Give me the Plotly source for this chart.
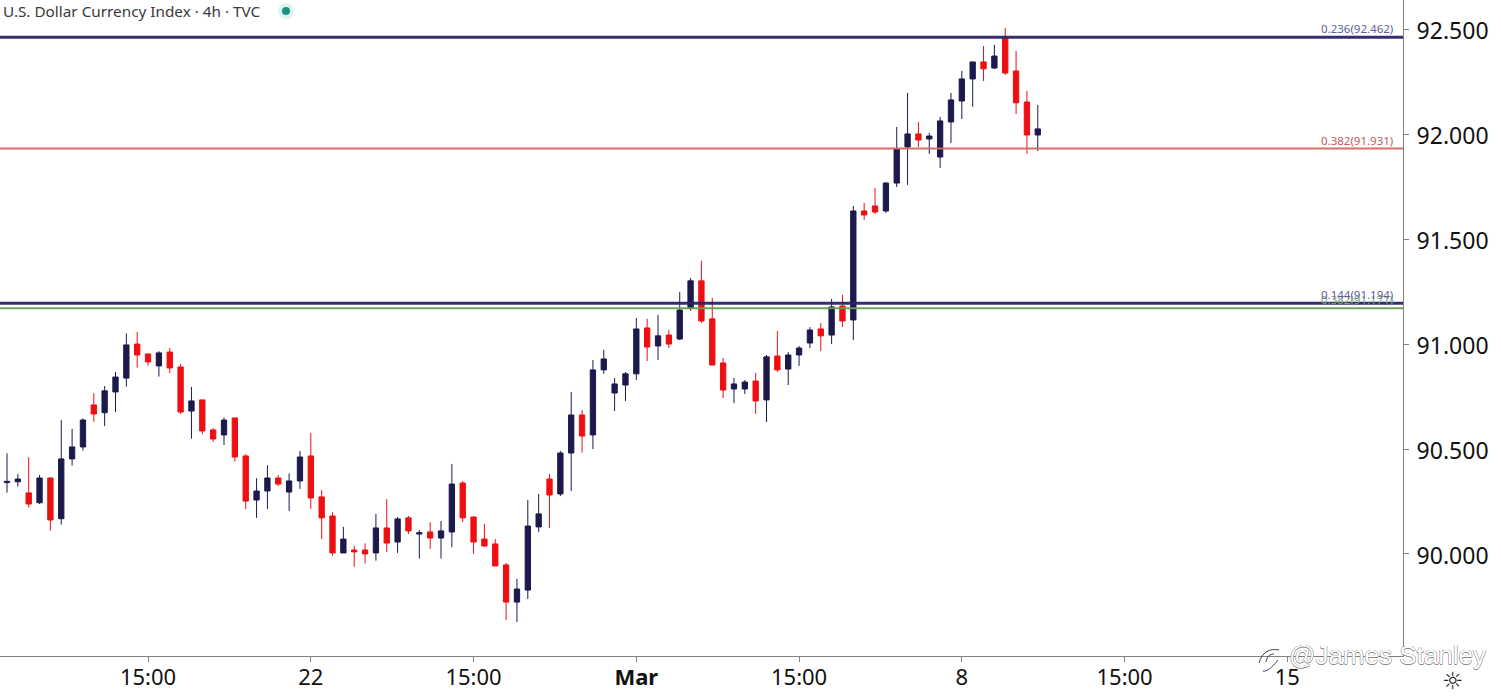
import plotly.graph_objects as go

# bars are spaced evenly on the chart, so use the bar number as x
opens = [
    90.340, 90.344, 90.291, 90.244, 90.362, 90.168, 90.453, 90.510,
    90.710, 90.673, 90.772, 90.838, 91.000, 90.953, 90.896, 90.962,
    90.891, 90.681, 90.734, 90.591, 90.567, 90.648, 90.467, 90.257,
    90.300, 90.362, 90.295, 90.348, 90.467, 90.272, 90.181, 90.005,
    90.019, 90.019, 90.005, 90.124, 90.057, 90.172, 90.095, 90.105,
    90.076, 90.105, 90.338, 90.176, 90.071, 90.048, 89.948, 89.771,
    89.828, 90.129, 90.357, 90.286, 90.481, 90.662, 90.567, 90.877,
    90.767, 90.805, 90.858, 91.077, 90.991, 91.043, 91.024, 91.172,
    91.301, 91.120, 90.910, 90.786, 90.786, 90.824, 90.734, 90.943,
    90.881, 90.948, 91.005, 91.072, 91.043, 91.181, 91.115, 91.634,
    91.658, 91.634, 91.767, 91.939, 92.001, 91.977, 91.891, 92.058,
    92.158, 92.263, 92.344, 92.315, 92.458, 92.301, 92.153, 91.996,
]
highs = [
    90.480, 90.381, 90.461, 90.376, 90.365, 90.638, 90.596, 90.646,
    90.766, 90.800, 90.867, 91.051, 91.058, 90.953, 90.966, 90.981,
    90.905, 90.796, 90.734, 90.599, 90.651, 90.648, 90.475, 90.361,
    90.423, 90.376, 90.384, 90.491, 90.576, 90.305, 90.199, 90.129,
    90.038, 90.051, 90.191, 90.262, 90.176, 90.181, 90.114, 90.152,
    90.157, 90.429, 90.348, 90.178, 90.143, 90.071, 89.957, 89.881,
    90.257, 90.286, 90.381, 90.491, 90.772, 90.686, 90.924, 90.972,
    90.838, 90.867, 91.124, 91.120, 91.139, 91.067, 91.248, 91.315,
    91.396, 91.220, 90.934, 90.838, 90.829, 90.862, 90.948, 91.062,
    90.962, 90.991, 91.081, 91.100, 91.215, 91.234, 91.658, 91.672,
    91.744, 91.772, 92.034, 92.196, 92.058, 92.006, 92.082, 92.196,
    92.301, 92.344, 92.420, 92.425, 92.506, 92.396, 92.206, 92.139,
]
lows = [
    90.292, 90.321, 90.221, 90.238, 90.111, 90.140, 90.421, 90.492,
    90.630, 90.610, 90.676, 90.797, 90.888, 90.897, 90.845, 90.861,
    90.667, 90.549, 90.570, 90.534, 90.519, 90.440, 90.214, 90.172,
    90.214, 90.324, 90.205, 90.310, 90.214, 90.071, 89.992, 90.005,
    89.939, 89.954, 89.968, 90.010, 90.005, 90.095, 89.978, 90.024,
    89.978, 90.033, 90.152, 90.000, 90.033, 89.943, 89.686, 89.676,
    89.786, 90.105, 90.124, 90.276, 90.300, 90.483, 90.500, 90.858,
    90.681, 90.729, 90.829, 90.919, 90.924, 90.981, 91.019, 91.158,
    91.100, 90.900, 90.743, 90.719, 90.762, 90.667, 90.629, 90.867,
    90.805, 90.896, 90.981, 90.967, 91.000, 91.081, 91.019, 91.591,
    91.620, 91.625, 91.748, 91.758, 91.939, 91.906, 91.839, 91.958,
    92.072, 92.130, 92.253, 92.311, 92.282, 92.096, 91.906, 91.920,
]
closes = [
    90.346, 90.357, 90.238, 90.362, 90.162, 90.453, 90.510, 90.638,
    90.667, 90.777, 90.843, 90.996, 90.948, 90.915, 90.958, 90.886,
    90.676, 90.729, 90.586, 90.548, 90.638, 90.462, 90.252, 90.300,
    90.362, 90.333, 90.348, 90.462, 90.267, 90.172, 90.005, 90.071,
    90.010, 90.000, 90.124, 90.052, 90.167, 90.110, 90.101, 90.076,
    90.110, 90.333, 90.172, 90.057, 90.038, 89.943, 89.771, 89.833,
    90.133, 90.191, 90.281, 90.481, 90.662, 90.562, 90.877, 90.929,
    90.810, 90.858, 91.072, 90.986, 91.039, 91.000, 91.162, 91.301,
    91.110, 90.900, 90.781, 90.810, 90.819, 90.729, 90.939, 90.877,
    90.948, 90.981, 91.067, 91.039, 91.177, 91.110, 91.634, 91.615,
    91.629, 91.767, 91.929, 92.001, 91.972, 91.991, 92.063, 92.163,
    92.263, 92.344, 92.311, 92.372, 92.291, 92.149, 91.996, 92.025,
]
bars = list(range(len(opens)))

tick_bars = [13, 28, 43, 58, 73, 88, 103, 118]
tick_labels = ["15:00", "22", "15:00", "<b>Mar</b>", "15:00", "8", "15:00", "15"]
price_ticks = [90, 90.5, 91, 91.5, 92, 92.5]

fib_levels = [91.171, 91.194, 91.931, 92.462]
fib_names = ["0.382(91.171)", "0.144(91.194)", "0.382(91.931)", "0.236(92.462)"]
fib_colors = ["#66a052", "#2b2468", "#cf6a62", "#2b2468"]
fib_text_colors = ["#7fa878", "#5f5f9c", "#c0605a", "#5f5f9c"]
fib_widths = [2, 3, 2, 3]

NAVY = "#1c1a4c"
RED = "#ee0f12"
PLOT_W, PLOT_H = 1403, 656


# pixel position in the picture to paper coordinates, for header and watermark bits
def px(x):
    return x / PLOT_W


def py(y):
    return 1 - y / PLOT_H


fig = go.Figure(go.Candlestick(
    x=bars, open=opens, high=highs, low=lows, close=closes,
    increasing=dict(line=dict(color=NAVY, width=1), fillcolor=NAVY),
    decreasing=dict(line=dict(color=RED, width=1), fillcolor=RED),
    whiskerwidth=0,
    hoverinfo="x+y",
))

# fib lines and their labels
for level, name, color, text_color, width in zip(fib_levels, fib_names, fib_colors, fib_text_colors, fib_widths):
    fig.add_shape(type="line", xref="paper", yref="y", x0=0, x1=1, y0=level, y1=level,
                  line=dict(color=color, width=width), opacity=0.95)
    fig.add_annotation(text=name, xref="paper", yref="y", x=px(1395), y=level,
                       xanchor="right", yanchor="bottom", yshift=-1, showarrow=False,
                       font=dict(family="Noto Sans", size=11.5, color=text_color))

# header text and status dot
fig.add_annotation(text="U.S. Dollar Currency Index · 4h · TVC", xref="paper", yref="paper",
                   x=px(1), y=py(11), xanchor="left", yanchor="middle", showarrow=False,
                   font=dict(family="Noto Sans", size=15.3, color="#3a3a3a"))
for radius, dot_color in [(8, "#dff3ef"), (4, "#1b9582")]:
    fig.add_shape(type="circle", xref="paper", yref="paper", line_width=0, fillcolor=dot_color,
                  x0=px(286 - radius), x1=px(286 + radius), y0=py(11 + radius), y1=py(11 - radius))

# watermark, outlined letters and the swirl logo
fig.add_annotation(text="@James Stanley", xref="paper", yref="paper",
                   x=px(1287), y=py(655), xanchor="left", yanchor="middle", showarrow=False,
                   font=dict(family="Liberation Sans", size=26, color="white",
                             shadow="0.5px 0 0 #888, -0.5px 0 0 #888, 0 0.5px 0 #888, 0 -0.5px 0 #888"))
fig.add_shape(type="path", xref="paper", yref="paper", line=dict(color="#444444", width=1),
              path=(f"M {px(1259)} {py(663)} C {px(1262)} {py(652)} {px(1270)} {py(648)} {px(1279)} {py(650)} "
                    f"M {px(1278)} {py(660)} C {px(1272)} {py(668)} {px(1266)} {py(672)} {px(1263)} {py(671)} "
                    f"M {px(1266)} {py(662)} C {px(1267)} {py(656)} {px(1270)} {py(654)} {px(1274)} {py(654)}"))
fig.add_annotation(text="☼", xref="paper", yref="paper", x=px(1453), y=py(681),
                   xanchor="center", yanchor="middle", showarrow=False,
                   font=dict(family="DejaVu Sans", size=24, color="#222222"))

fig.update_layout(
    width=1501,
    height=700,
    margin=dict(l=0, r=98, t=0, b=44),
    plot_bgcolor="white",
    paper_bgcolor="white",
    showlegend=False,
    xaxis=dict(
        range=[-0.645, 128.66],
        rangeslider=dict(visible=False),
        tickmode="array",
        tickvals=tick_bars,
        ticktext=tick_labels,
        ticks="outside",
        ticklen=5,
        tickcolor="#808080",
        showgrid=False,
        zeroline=False,
        showline=True,
        linecolor="#808080",
        ticklabelstandoff=-3,
        tickfont=dict(family="Noto Sans", size=22, color="#111111"),
    ),
    yaxis=dict(
        side="right",
        range=[89.514, 92.639],
        tickmode="array",
        tickvals=price_ticks,
        tickformat=".3f",
        ticks="outside",
        ticklen=5,
        tickcolor="#808080",
        showgrid=False,
        zeroline=False,
        showline=True,
        linecolor="#808080",
        ticklabelstandoff=3,
        ticklabelshift=2,
        tickfont=dict(family="Noto Sans", size=23, color="#111111"),
    ),
)

fig.write_html("out.html", config={"displayModeBar": False}, post_script="document.body.style.margin='0';")
